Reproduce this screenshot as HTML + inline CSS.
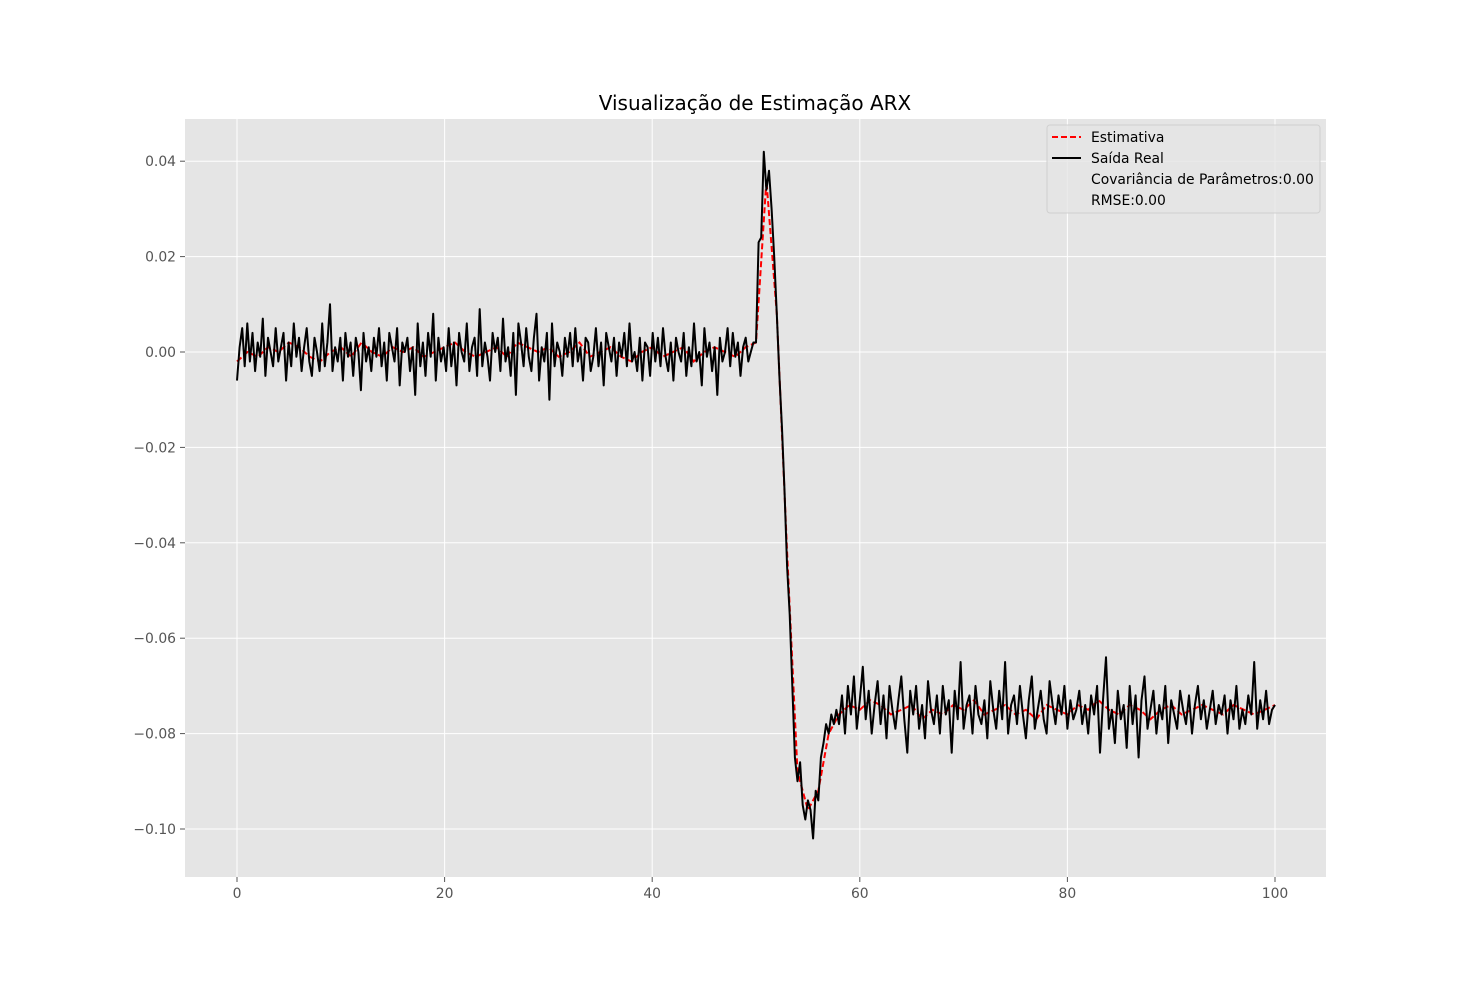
<!DOCTYPE html>
<html><head><meta charset="utf-8"><style>
body{margin:0;background:#fff;}
svg{display:block;font-family:"DejaVu Sans","Liberation Sans",sans-serif;}
</style></head><body>
<svg id="chart" width="1474" height="986" viewBox="0 0 1474 986" xmlns="http://www.w3.org/2000/svg">
<rect x="0" y="0" width="1474" height="986" fill="#fff"/>
<rect x="185" y="119" width="1141" height="758" fill="#e5e5e5"/>
<g id="grid"></g>
<g id="axes"></g>
<g id="series"></g>
<text x="755" y="110" font-size="20" text-anchor="middle" fill="#000">Visualização de Estimação ARX</text>
<g>
<rect x="1047" y="125" width="273" height="88" rx="3" fill="#e5e5e5" fill-opacity="0.8" stroke="#d0d0d0"/>
<line x1="1052" y1="137" x2="1081" y2="137" stroke="#ff0000" stroke-width="2" stroke-dasharray="6,3"/>
<text x="1091" y="142" font-size="13.9">Estimativa</text>
<line x1="1052" y1="158" x2="1081" y2="158" stroke="#000" stroke-width="2"/>
<text x="1091" y="163" font-size="13.9">Saída Real</text>
<text x="1091" y="184" font-size="13.9">Covariância de Parâmetros:0.00</text>
<text x="1091" y="205" font-size="13.9">RMSE:0.00</text>
</g>
</svg>
<script>
const xTicks=[0,20,40,60,80,100];
const yTicks=[0.04,0.02,0,-0.02,-0.04,-0.06,-0.08,-0.10];
const yTickLabels=["0.04","0.02","0.00","\u22120.02","\u22120.04","\u22120.06","\u22120.08","\u22120.10"];
// real output, units of 0.001
const realPre=[-6,1,5,-3,6,-2,4,-4,2,-1,7,-5,3,0,-3,5,-2,1,4,-6,2,-3,6,-1,3,-4,1,5,-2,-5,
3,0,-4,6,-3,2,10,-4,1,-2,3,-6,4,-1,2,-5,3,0,-8,4,
-2,1,-4,3,-1,5,-3,2,-6,4,1,-2,5,-7,2,0,3,-4,1,-9,
6,-3,2,-5,4,-1,8,-6,3,-2,1,-4,5,-3,2,-7,4,0,-2,6,
-4,1,3,-5,9,-3,2,-1,-6,4,0,3,-4,7,-2,1,-5,4,-9,6,
2,-3,5,-1,-4,3,8,-6,1,-2,4,-10,6,-3,2,0,-5,3,-1,4,
-3,5,-2,1,-6,3,2,-4,-1,5,-3,2,-7,4,1,-2,3,-5,2,-1,
4,-3,6,-2,0,-4,3,-6,2,1,-5,4,-2,3,-3,5,-1,-4,2,-6,
3,0,-2,4,-5,1,-3,6,-2,0,-7,5,-1,2,-4,1,-9,3,-2,0,
5,-3,4,-1,2,-5,1,3,-2,0,2];
const transX=[50,50.25,50.5,50.75,51,51.25,51.5,51.75,52,52.25,52.5,52.75,53,53.25,53.5,53.75,54,54.25,54.5,54.75,55,55.25,55.5,55.75,56,56.25,56.5,56.75,57,57.25,57.5,57.75];
const transY=[2,23,24,42,34,38,30,20,8,-5,-16,-29,-45,-55,-70,-85,-90,-86,-95,-98,-94,-96,-102,-92,-94,-85,-82,-78,-80,-76,-78,-75];
const realPost=[-78,-72,-80,-70,-76,-68,-79,-73,-66,-77,-71,-80,-74,-69,-78,-72,-81,-70,-75,-79,
-73,-68,-77,-84,-71,-76,-70,-79,-74,-81,-69,-75,-78,-72,-80,-70,-76,-73,-84,-71,
-77,-65,-79,-74,-72,-80,-70,-76,-78,-73,-81,-69,-75,-79,-71,-77,-65,-80,-74,-72,
-78,-70,-76,-81,-73,-68,-79,-75,-71,-77,-80,-69,-74,-78,-72,-76,-70,-79,-73,-77,
-75,-71,-78,-74,-80,-72,-76,-70,-84,-73,-64,-79,-75,-82,-71,-77,-74,-83,-70,-78,
-72,-85,-73,-68,-79,-75,-71,-80,-74,-77,-70,-82,-73,-76,-79,-71,-75,-78,-72,-80,
-74,-70,-77,-73,-79,-75,-71,-78,-74,-76,-72,-80,-73,-77,-70,-79,-75,-78,-72,-76,
-65,-79,-73,-77,-71,-78,-75,-74];
// estimate, step 1 from x=0
const est=[-2,0,-1,1,0,2,1,-1,-2,0,1,-1,2,0,-1,1,0,1,-1,0,1,2,0,-1,0,1,-1,2,1,0,1,-1,0,2,-1,0,1,-1,-2,0,1,-1,0,1,-2,0,1,0,-1,1,
2,36,8,-42,-88,-96,-92,-80,
-76,-74,-75,-73,-74,-76,-75,-74,-77,-75,-76,-74,-75,-73,-76,-75,-74,-76,-75,-77,-74,-75,-76,-74,-75,-73,-75,-76,-74,-75,-77,-75,-74,-76,-75,-74,-75,-76,-74,-75,-76,-75,-74];

const NS="http://www.w3.org/2000/svg";
const X=v=>237+v*10.38;
const Y=v=>352-v*4770;
function mk(tag,attrs,parent){const e=document.createElementNS(NS,tag);for(const k in attrs)e.setAttribute(k,attrs[k]);parent.appendChild(e);return e;}
const grid=document.getElementById('grid'),axes=document.getElementById('axes'),series=document.getElementById('series');
xTicks.forEach(t=>{
  const l=mk('line',{x1:X(t),x2:X(t),y1:119,y2:877,stroke:'#fff','stroke-width':1},grid);
  
  
  const tk=mk('line',{x1:X(t),x2:X(t),y1:877,y2:882,stroke:'#555'},axes);
  
  
  const tx=mk('text',{x:X(t),y:898,'font-size':13.9,'text-anchor':'middle',fill:'#555'},axes);
  tx.textContent=String(t);
  
  
});
yTicks.forEach((t,i)=>{
  const l=mk('line',{x1:185,x2:1326,y1:Y(t),y2:Y(t),stroke:'#fff','stroke-width':1},grid);
  
  
  const tk=mk('line',{x1:180,x2:185,y1:Y(t),y2:Y(t),stroke:'#555'},axes);
  
  
  const tx=mk('text',{x:176,y:Y(t)+5,'font-size':13.9,'text-anchor':'end',fill:'#555'},axes);
  tx.textContent=yTickLabels[i];
  
  
});
const pts=[];
realPre.forEach((v,i)=>pts.push([50*i/realPre.length,v]));
transX.forEach((x,i)=>pts.push([x,transY[i]]));
realPost.forEach((v,i)=>pts.push([58+42*i/(realPost.length-1),v]));
const estPts=est.map((v,i)=>[i,v]);
const e=mk('polyline',{points:estPts.map(p=>X(p[0]).toFixed(1)+','+Y(p[1]/1000).toFixed(1)).join(' '),fill:'none',stroke:'#ff0000','stroke-width':2,'stroke-dasharray':'6,3'},series);


const r=mk('polyline',{points:pts.map(p=>X(p[0]).toFixed(1)+','+Y(p[1]/1000).toFixed(1)).join(' '),fill:'none',stroke:'#000','stroke-width':2,'stroke-linejoin':'round'},series);


</script>
</body></html>
